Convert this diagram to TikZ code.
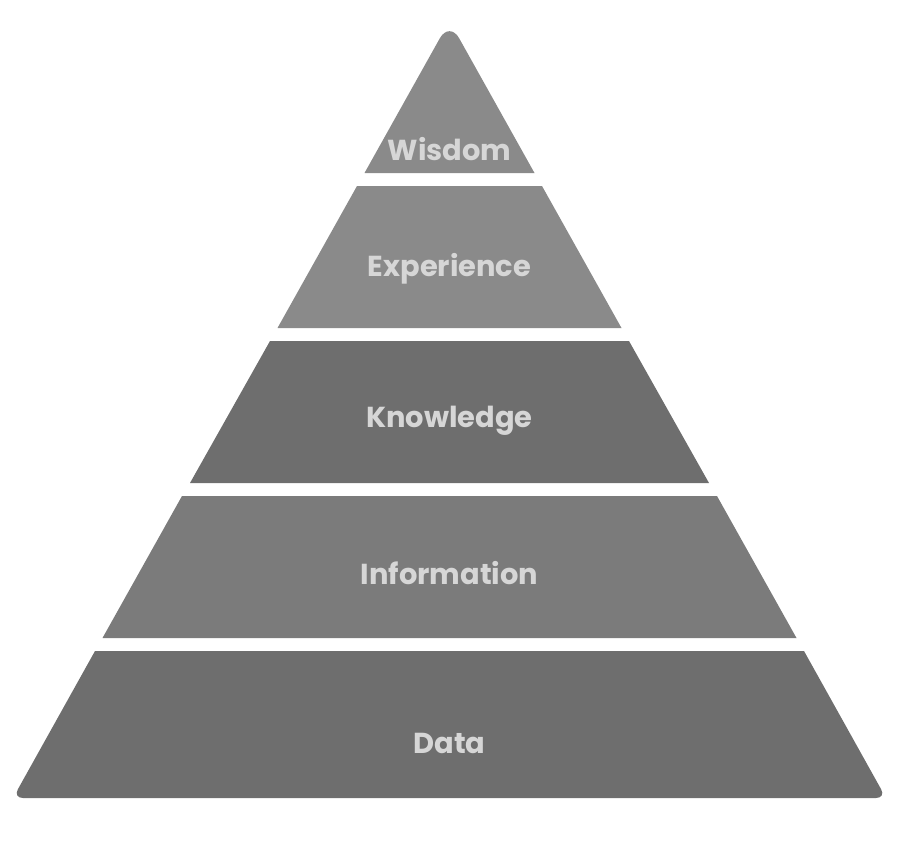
\documentclass[tikz,border=0pt]{standalone}
\usepackage{fontspec}
\setmainfont[Ligatures={NoCommon}]{Poppins}
\begin{document}
\begin{tikzpicture}[x=1bp,y=-1bp,
  layer/.style={draw=none},
  lab/.style={text=labgray,font=\bfseries\fontsize{29}{32}\selectfont,anchor=base,inner sep=0pt}]
\definecolor{light}{HTML}{8A8A8A}
\definecolor{mid}{HTML}{7B7B7B}
\definecolor{dark}{HTML}{6E6E6E}
\definecolor{labgray}{HTML}{D6D6D6}
\useasboundingbox (0,0) rectangle (900,842);
% Wisdom
\fill[light] (364.5,173) [rounded corners=20] -- (449.5,21) [sharp corners] -- (534.5,173) -- cycle;
% Experience
\fill[light] (357,186) -- (542,186) -- (621.5,328) -- (277.5,328) -- cycle;
% Knowledge
\fill[dark] (270,341) -- (629,341) -- (709,483) -- (190,483) -- cycle;
% Information
\fill[mid] (182,496) -- (717,496) -- (796.5,638) -- (102.5,638) -- cycle;
% Data
\fill[dark] (95,651) -- (804,651) [rounded corners=10] -- (886,798) -- (13,798) [sharp corners] -- cycle;
\node[lab] (wis) at (449.5,160) {Wisdom};
\node[lab] (exp) at (449.5,276) {Experience};
\node[lab] (kno) at (449.5,427) {Knowledge};
\node[lab] (inf) at (449.5,584) {Information};
\node[lab] (dat) at (449.5,753) {Data};
\end{tikzpicture}
\end{document}
